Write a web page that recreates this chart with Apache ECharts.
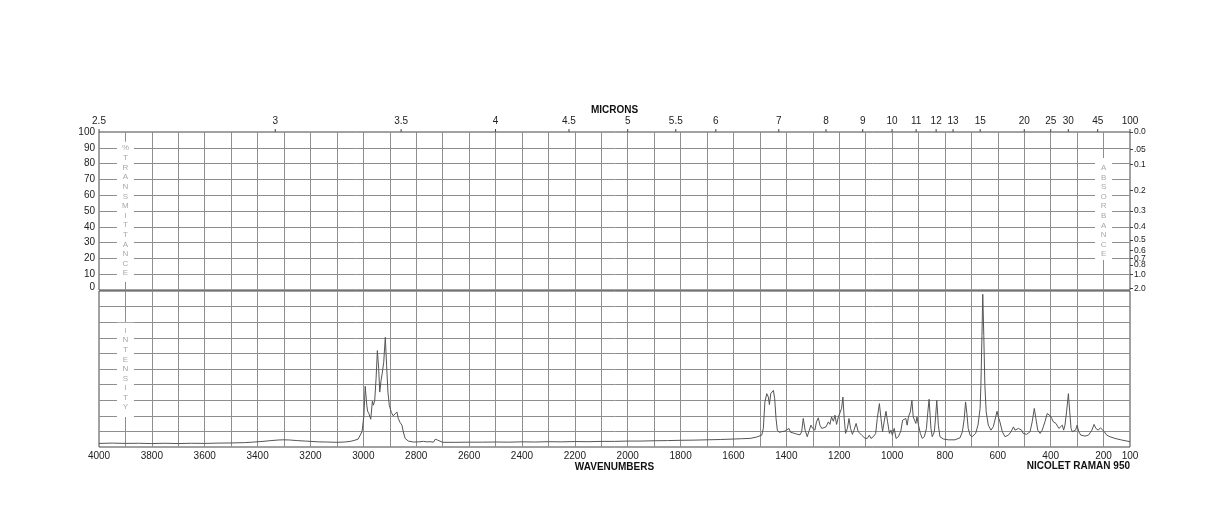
<!DOCTYPE html>
<html>
<head>
<meta charset="utf-8">
<script src="https://cdn.jsdelivr.net/npm/echarts@6/dist/echarts.min.js"></script>
<style>
html,body{margin:0;padding:0;background:#fff;}
#chart{width:1224px;height:528px;}
</style>
</head>
<body>
<div id="chart"></div>
<script>
// ---- data ----
const ramanShift = [
4000,3950,3900,3850,3800,3750,3700,3650,3600,3550,3500,3450,3420,3380,3350,3320,3300,3280,3250,3220,3200,3170,3140,3100,3070,3050,3035,3020,3013,3005,
2998,2993,2987,2984,2979,2972,2966,2962,2957,2952,2947,2942,2938,2933,2928,2923,2917,2912,2907,2902,2894,2887,2880,2873,2868,2861,2854,2849,2842,2830,
2811,2790,2773,2760,2748,2735,2728,2725,2720,2716,2700,2650,2600,2550,2500,2450,2400,2350,2300,2250,2200,2150,2100,2050,2000,1950,1900,1850,1800,1750,
1700,1650,1600,1570,1537,1512,1493,1487,1481,1474,1468,1464,1459,1454,1449,1444,1439,1434,1427,1418,1405,1400,1390,1384,1374,1361,1348,1342,1336,1329,
1321,1313,1307,1300,1292,1286,1279,1273,1266,1260,1250,1241,1235,1229,1222,1216,1210,1203,1197,1191,1186,1181,1176,1169,1163,1157,1150,1144,1136,1128,
1121,1115,1109,1102,1094,1086,1080,1071,1062,1056,1048,1042,1036,1029,1023,1017,1010,1004,999,992,985,976,967,960,955,948,943,938,931,925,
920,915,910,906,900,893,886,878,870,865,860,856,853,848,840,835,831,827,825,819,806,787,762,743,734,727,722,717,712,705,
697,684,675,667,664,660,657,653,649,644,636,626,617,608,603,598,592,583,573,560,550,541,535,529,522,516,510,504,491,478,
470,462,456,449,440,432,422,413,407,402,396,390,385,380,375,369,362,356,351,346,340,333,328,323,318,312,306,300,294,286,
270,257,244,236,229,225,220,212,205,197,188,176,157,132,100
];
const ramanIntensity = [
2.3,2.5,2.3,2.4,2.2,2.4,2.2,2.4,2.3,2.5,2.6,2.8,3.1,3.6,4.1,4.5,4.6,4.5,4.1,3.8,3.6,3.3,3.2,3.0,3.2,3.6,4.2,5.0,5.5,9.8,
20,38.9,26.8,23,21.4,17.8,29.3,26.8,29.9,43.7,61.8,50.1,35.2,42.7,48,54.3,70.3,52.2,35.2,26.8,22.1,20,20.8,22.5,18.3,15.7,14,9.8,5.5,3.8,
3.2,3.3,3.6,3.3,3.4,3.1,5.0,6.2,4.5,3.4,3.0,3.0,3.1,3.1,3.2,3.1,3.3,3.2,3.4,3.3,3.5,3.4,3.6,3.6,3.8,3.8,4.0,4.1,4.3,4.4,
4.6,4.8,5.1,5.3,5.5,6.4,7.6,11.9,28.9,34.2,32,27.2,34.2,35.2,36.3,31,18.3,10.8,9.4,9.8,10.2,9.0,11.9,9.4,9.0,8.3,7.8,9.8,18.3,10.8,
6.6,10.8,14,11.9,10.8,16.1,18.7,14,11.9,10.8,12.9,16.1,14.5,19.3,16.5,20.4,14.5,19.3,18.3,24.7,32,18.3,8.7,11.9,18.3,11.9,8.1,10.8,15.1,9.8,
8.7,7.6,8.7,5.5,5.5,7.6,5.5,6.6,8.7,18.3,27.8,18.3,9.8,17.2,22.9,16.1,8.7,10.8,7.6,11.9,5.5,6.6,10.2,17.2,16,18.3,14,19.3,22.5,29.9,
19.3,18.3,15.1,19.3,14,8.7,5.5,6.6,11.9,22,30.6,20,11.9,6.6,9.8,20,29.9,20,14,6.6,5.1,4.6,4.6,5.9,9.8,18.3,28.9,21.5,11.9,7.6,
6.6,8.7,14,24.7,39.5,71.3,97.9,71.3,39.5,22.5,14,10.8,13,19.3,22.9,19.3,16.1,9.8,6.6,7.6,9.8,12.9,10.8,10.8,11.9,12.9,10.8,8.7,8.1,9.8,
16.1,24.7,18.3,10.8,8.7,10.8,16.1,21.5,22.5,20,18.3,16.1,17.2,15.1,16.1,11.9,10.8,14,10.8,14,22.5,34.2,22.5,11.9,9.8,9.5,10.8,14,9.8,7.6,
7,7.6,10.8,14.5,11.9,12.9,10.8,12.3,12.3,9.8,7.6,6.6,5.5,4.5,3.4
];
const micronLabels = [2.5,3,3.5,4,4.5,5,5.5,6,7,8,9,10,11,12,13,15,20,25,30,45,100];
const transmittanceTicks = [0,10,20,30,40,50,60,70,80,90,100];
const absorbanceLabels = ['0.0','.05','0.1','0.2','0.3','0.4','0.5','0.6','0.7','0.8','1.0','2.0'];
const absorbanceValues = [0,0.05,0.1,0.2,0.3,0.4,0.5,0.6,0.7,0.8,1.0,2.0];
const wavenumberLabels = [4000,3800,3600,3400,3200,3000,2800,2600,2400,2200,2000,1800,1600,1400,1200,1000,800,600,400,200,100];
// vertical captions: [wavenumber, boxTop, boxBottom, firstLetter, lastLetter]
const captionUpperLeft = {text:'%TRANSMITTANCE', pos:[3900, 93.8, 5.0, 89.7, 10.6]};
const captionUpperRight = {text:'ABSORBANCE', pos:[200, 83.5, 19.0, 77.2, 22.8]};
const captionLower = {text:'INTENSITY', pos:[3900, 79.6, 19.3, 74.5, 25.7]};

// ---- derived ----
const spectrum = ramanShift.map((w,i)=>[w, ramanIntensity[i]]);
const transmittanceAt = absorbanceValues.map(a => 100*Math.pow(10,-a));
const FONT = "'Liberation Sans', Arial, Helvetica, sans-serif";
const GRID = '#8e8e8e';
const BORDER = '#444';

function captionSeries(cap, xi, yi) {
  return {
    type:'custom', xAxisIndex:xi, yAxisIndex:yi, clip:false, silent:true, z:3,
    data:[cap.pos],
    renderItem:function(params, api){
      const top = api.coord([api.value(0), api.value(1)]);
      const bot = api.coord([api.value(0), api.value(2)]);
      const first = api.coord([api.value(0), api.value(3)]);
      const last = api.coord([api.value(0), api.value(4)]);
      const letters = cap.text.split('');
      const step = (last[1]-first[1])/(letters.length-1);
      const children = [{
        type:'rect', shape:{x:top[0]-8.5, y:top[1], width:17, height:bot[1]-top[1]},
        style:{fill:'#fff'}
      }];
      letters.forEach((ch,i)=>{
        children.push({type:'text', style:{text:ch, x:first[0], y:first[1]+i*step,
          align:'center', verticalAlign:'middle', fill:'#a8a8a8', font:'8px '+FONT}});
      });
      return {type:'group', children:children};
    }
  };
}

const chart = echarts.init(document.getElementById('chart'), null, {renderer:'canvas'});
const option = {
  animation:false,
  backgroundColor:'#fff',
  title:{
    text:'NICOLET RAMAN 950', right:94, top:461,
    textStyle:{fontFamily:FONT, fontSize:10, fontWeight:'bold', color:'#111'}, padding:0
  },
  grid:[
    {left:99, top:132, width:1031, height:158, show:true, borderColor:BORDER, borderWidth:1, backgroundColor:'transparent'},
    {left:99, top:291, width:1031, height:156, show:true, borderColor:BORDER, borderWidth:1, backgroundColor:'transparent'}
  ],
  xAxis:[
    {gridIndex:0, type:'value', min:100, max:4000, interval:100, inverse:true, position:'top',
     name:'MICRONS', nameLocation:'middle', nameGap:17,
     nameTextStyle:{fontFamily:FONT, fontSize:10, fontWeight:'bold', color:'#111'},
     axisLine:{show:false}, axisTick:{show:false}, axisLabel:{show:false},
     splitLine:{show:true, showMinLine:false, showMaxLine:false, lineStyle:{color:GRID, width:1}}},
    {gridIndex:1, type:'value', min:100, max:4000, interval:100, inverse:true, position:'bottom',
     name:'WAVENUMBERS', nameLocation:'middle', nameGap:15,
     nameTextStyle:{fontFamily:FONT, fontSize:10, fontWeight:'bold', color:'#111'},
     axisLine:{show:false}, axisTick:{show:false},
     axisLabel:{show:true, margin:4, fontFamily:FONT, fontSize:10, color:'#222', hideOverlap:false,
       formatter:function(v){ return wavenumberLabels.indexOf(v) >= 0 ? String(v) : ''; }},
     splitLine:{show:true, showMinLine:false, showMaxLine:false, lineStyle:{color:GRID, width:1}}}
  ],
  yAxis:[
    {gridIndex:0, type:'value', min:0, max:100, interval:10, position:'left',
     axisLine:{show:false}, axisTick:{show:false},
     axisLabel:{margin:4, fontFamily:FONT, fontSize:10, color:'#222',
       formatter:function(v){ return v===0 ? '{z|0}' : String(v); },
       rich:{z:{fontFamily:FONT, fontSize:10, color:'#222', padding:[0,0,6,0]}}},
     splitLine:{show:true, showMinLine:false, showMaxLine:false, lineStyle:{color:GRID, width:1}}},
    {gridIndex:0, type:'value', min:0, max:100, position:'right',
     axisLine:{show:false},
     axisTick:{show:true, length:3, customValues:transmittanceAt, lineStyle:{color:BORDER}},
     axisLabel:{show:true, margin:4, customValues:transmittanceAt, fontFamily:FONT, fontSize:8.5, color:'#222',
       formatter:function(v){
         let best=0, d=1e9;
         transmittanceAt.forEach((t,i)=>{ const dd=Math.abs(t-v); if(dd<d){d=dd;best=i;} });
         return absorbanceLabels[best];
       }},
     splitLine:{show:false}},
    {gridIndex:1, type:'value', min:0, max:100, interval:10, position:'left',
     axisLine:{show:false}, axisTick:{show:false}, axisLabel:{show:false},
     splitLine:{show:true, showMinLine:false, showMaxLine:false, lineStyle:{color:GRID, width:1}}}
  ],
  series:[
    {
      type:'custom', xAxisIndex:0, yAxisIndex:0, clip:false, silent:true, z:3,
      data: micronLabels.map(m => [10000/m, 100]),
      renderItem:function(params, api){
        const p = api.coord([api.value(0), api.value(1)]);
        return {type:'group', children:[
          {type:'line', shape:{x1:p[0], y1:p[1], x2:p[0], y2:p[1]-3}, style:{stroke:BORDER, lineWidth:1}},
          {type:'text', style:{text:String(micronLabels[params.dataIndex]), x:p[0], y:p[1]-11,
            align:'center', verticalAlign:'middle', fill:'#222', font:'10px '+FONT}}
        ]};
      }
    },
    captionSeries(captionUpperLeft, 0, 0),
    captionSeries(captionUpperRight, 0, 0),
    captionSeries(captionLower, 1, 2),
    {
      type:'line', xAxisIndex:1, yAxisIndex:2, data:spectrum, symbol:'none', silent:true, z:4,
      lineStyle:{color:'#555', width:1}
    }
  ]
};
chart.setOption(option);
</script>
</body>
</html>
